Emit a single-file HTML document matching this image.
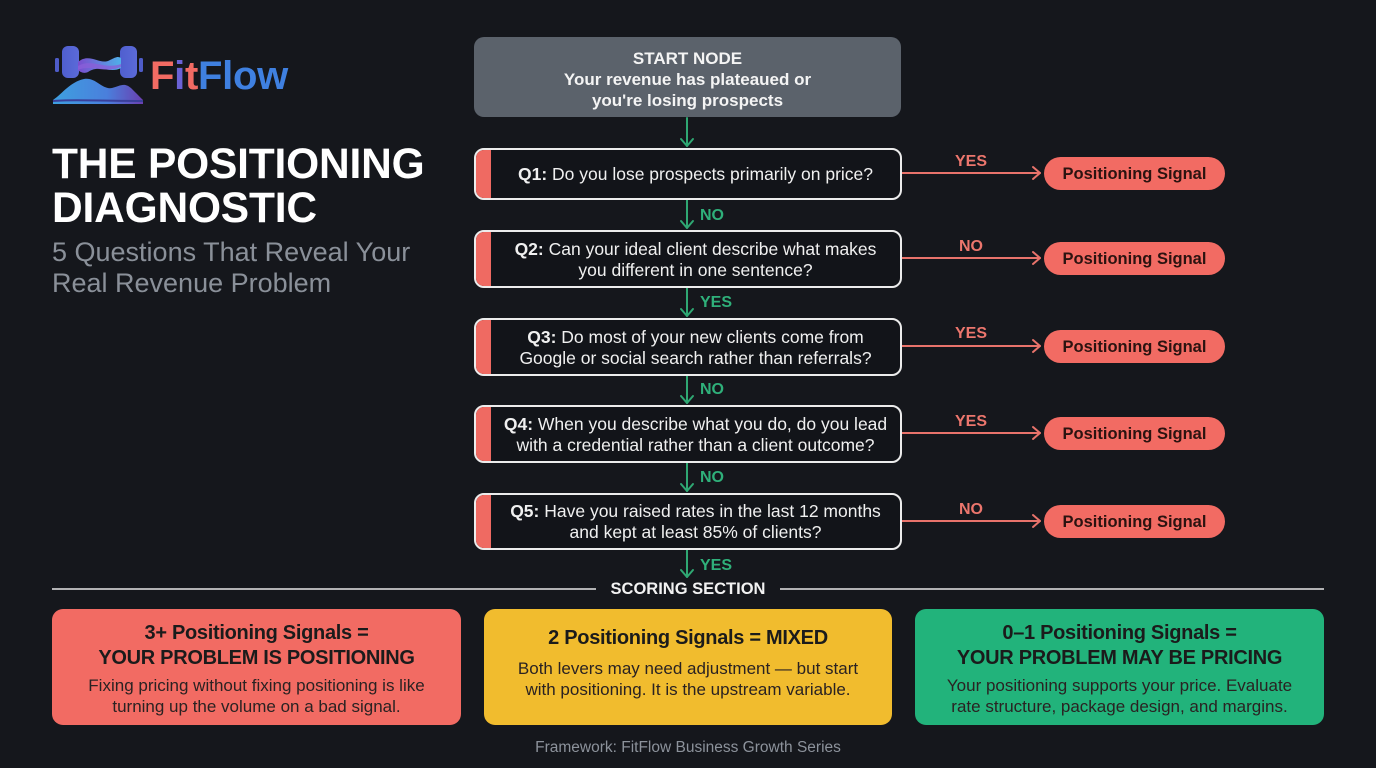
<!DOCTYPE html>
<html><head><meta charset="utf-8">
<style>
*{margin:0;padding:0;box-sizing:border-box}
body{width:1376px;height:768px;background:#15171c;font-family:"Liberation Sans",Arial,sans-serif;position:relative;overflow:hidden;color:#fff}
.abs{position:absolute}
.title{left:52px;top:143px;font-size:42.5px;font-weight:700;line-height:44px;color:#fff;letter-spacing:-0.2px}
.sub{left:52px;top:237px;font-size:27px;line-height:31px;color:#8a9099}
.start{left:474px;top:37px;width:427px;height:80px;background:#5b626b;border-radius:10px;text-align:center;font-weight:700;font-size:17px;line-height:21px;padding-top:11px;color:#f4f4f4}
.q{left:474px;width:428px;border:2px solid #ececec;border-radius:10px;background:#121419;overflow:hidden;display:flex;align-items:center;justify-content:center}
.q .acc{position:absolute;left:0;top:0;bottom:0;width:15px;background:#ef6a62}
.q .t{margin-left:15px;text-align:center;font-size:17.5px;line-height:21px;color:#f0f0f0;width:405px;padding-top:1px}
.q b{font-weight:700}
.pill{left:1044px;width:181px;height:33px;border-radius:17px;background:#f26b63;color:#2b1310;font-weight:700;font-size:16.5px;text-align:center;line-height:34px}
.rl{font-size:16px;font-weight:700;color:#ec766d;width:60px;text-align:center;left:941px}
.gl{font-size:16px;font-weight:700;color:#2fb07a;left:700px}
.card{top:609px;height:116px;border-radius:11px;text-align:center;color:#1b1b1b}
.card .h{font-size:20px;font-weight:700;line-height:25px;letter-spacing:-0.3px}
.card .p{font-size:17px;line-height:21px;color:#2a2222;margin-top:4px}
.foot{left:0;width:1376px;top:739px;text-align:center;font-size:15.5px;color:#8c929b}
</style></head><body>

<!-- Logo -->
<svg class="abs" style="left:0;top:0" width="320" height="120">
  <defs>
    <linearGradient id="lg1" x1="0" x2="1" y1="0" y2="0"><stop offset="0" stop-color="#4f5fcf"/><stop offset="1" stop-color="#5b6ad8"/></linearGradient>
    <linearGradient id="lg2" x1="0" x2="1" y1="0" y2="0"><stop offset="0" stop-color="#3ea0e0"/><stop offset="0.6" stop-color="#4a7fdc"/><stop offset="1" stop-color="#6a3fb0"/></linearGradient>
    <linearGradient id="lg3" x1="0" x2="1"><stop offset="0" stop-color="#7a4ccf"/><stop offset="1" stop-color="#4fb0e8"/></linearGradient>
  </defs>
  <rect x="55" y="58" width="4" height="14" rx="1.5" fill="#4e5cc8"/>
  <rect x="62" y="46" width="17" height="32" rx="6" fill="url(#lg1)"/>
  <rect x="120" y="46" width="17" height="32" rx="6" fill="url(#lg1)"/>
  <rect x="139" y="58" width="4" height="14" rx="1.5" fill="#4e5cc8"/>
  <path d="M78 62 C90 52,100 66,110 60 C116 57,118 56,121 58 L121 68 C110 74,100 64,88 72 C84 74,80 72,78 70 Z" fill="url(#lg3)"/>
  <path d="M78 66 C92 58,104 70,121 64 L121 67 C104 74,92 64,78 70Z" fill="#8a5fd8" opacity="0.8"/>
  <path d="M53 100 C62 94,70 82,84 79 C96 77,102 90,112 88 C120 86,124 82,131 88 C137 94,140 97,143 100 L143 104 L53 104Z" fill="url(#lg2)"/>
  <path d="M53 101 C70 99,100 101,143 101" stroke="#3a3f9a" stroke-width="2" fill="none"/>
  <text x="150" y="89" font-family="Liberation Sans, Arial, sans-serif" font-weight="700" font-size="40" letter-spacing="-0.3"><tspan fill="#f26b63">F</tspan><tspan fill="#6a62d6">i</tspan><tspan fill="#f26b63">t</tspan><tspan fill="#3f80e0">Flow</tspan></text>
</svg>

<div class="abs title">THE POSITIONING<br>DIAGNOSTIC</div>
<div class="abs sub">5 Questions That Reveal Your<br>Real Revenue Problem</div>

<!-- Connectors -->
<svg class="abs" style="left:0;top:0" width="1376" height="768">
  <g stroke="#2fa873" stroke-width="2" fill="none" stroke-linecap="round" stroke-linejoin="round">
    <line x1="687" y1="118" x2="687" y2="146"/><polyline points="681,139 687,146 693,139"/>
    <line x1="687" y1="200" x2="687" y2="228"/><polyline points="681,221 687,228 693,221"/>
    <line x1="687" y1="288" x2="687" y2="316"/><polyline points="681,309 687,316 693,309"/>
    <line x1="687" y1="376" x2="687" y2="403"/><polyline points="681,396 687,403 693,396"/>
    <line x1="687" y1="463" x2="687" y2="491"/><polyline points="681,484 687,491 693,484"/>
    <line x1="687" y1="550" x2="687" y2="577"/><polyline points="681,570 687,577 693,570"/>
  </g>
  <g stroke="#e8736b" stroke-width="2" fill="none" stroke-linecap="round" stroke-linejoin="round">
    <line x1="902" y1="173" x2="1040" y2="173"/><polyline points="1033,167 1040,173 1033,179"/>
    <line x1="902" y1="258" x2="1040" y2="258"/><polyline points="1033,252 1040,258 1033,264"/>
    <line x1="902" y1="346" x2="1040" y2="346"/><polyline points="1033,340 1040,346 1033,352"/>
    <line x1="902" y1="433" x2="1040" y2="433"/><polyline points="1033,427 1040,433 1033,439"/>
    <line x1="902" y1="521" x2="1040" y2="521"/><polyline points="1033,515 1040,521 1033,527"/>
  </g>
  <line x1="52" y1="589" x2="596" y2="589" stroke="#e6e6e6" stroke-width="1.5"/>
  <line x1="780" y1="589" x2="1324" y2="589" stroke="#e6e6e6" stroke-width="1.5"/>
</svg>

<div class="abs start">START NODE<br>Your revenue has plateaued or<br>you're losing prospects</div>

<div class="abs q" style="top:148px;height:52px"><div class="acc"></div><div class="t"><b>Q1:</b> Do you lose prospects primarily on price?</div></div>
<div class="abs q" style="top:230px;height:58px"><div class="acc"></div><div class="t"><b>Q2:</b> Can your ideal client describe what makes<br>you different in one sentence?</div></div>
<div class="abs q" style="top:318px;height:58px"><div class="acc"></div><div class="t"><b>Q3:</b> Do most of your new clients come from<br>Google or social search rather than referrals?</div></div>
<div class="abs q" style="top:405px;height:58px"><div class="acc"></div><div class="t"><b>Q4:</b> When you describe what you do, do you lead<br>with a credential rather than a client outcome?</div></div>
<div class="abs q" style="top:493px;height:57px"><div class="acc"></div><div class="t"><b>Q5:</b> Have you raised rates in the last 12 months<br>and kept at least 85% of clients?</div></div>

<div class="abs gl" style="top:207px">NO</div>
<div class="abs gl" style="top:294px">YES</div>
<div class="abs gl" style="top:381px">NO</div>
<div class="abs gl" style="top:469px">NO</div>
<div class="abs gl" style="top:557px">YES</div>

<div class="abs rl" style="top:153px">YES</div>
<div class="abs rl" style="top:238px">NO</div>
<div class="abs rl" style="top:325px">YES</div>
<div class="abs rl" style="top:413px">YES</div>
<div class="abs rl" style="top:501px">NO</div>

<div class="abs pill" style="top:157px">Positioning Signal</div>
<div class="abs pill" style="top:242px">Positioning Signal</div>
<div class="abs pill" style="top:330px">Positioning Signal</div>
<div class="abs pill" style="top:417px">Positioning Signal</div>
<div class="abs pill" style="top:505px">Positioning Signal</div>

<div class="abs" style="left:0;width:1376px;top:580px;text-align:center;font-size:16.5px;font-weight:700;color:#f2f2f2">SCORING SECTION</div>

<div class="abs card" style="left:52px;width:409px;background:#f26b63;padding-top:12px">
  <div class="h">3+ Positioning Signals =<br>YOUR PROBLEM IS POSITIONING</div>
  <div class="p">Fixing pricing without fixing positioning is like<br>turning up the volume on a bad signal.</div>
</div>
<div class="abs card" style="left:484px;width:408px;background:#f1bc2e;padding-top:17px">
  <div class="h">2 Positioning Signals = MIXED</div>
  <div class="p" style="margin-top:7px">Both levers may need adjustment — but start<br>with positioning. It is the upstream variable.</div>
</div>
<div class="abs card" style="left:915px;width:409px;background:#22b37b;padding-top:12px">
  <div class="h">0–1 Positioning Signals =<br>YOUR PROBLEM MAY BE PRICING</div>
  <div class="p">Your positioning supports your price. Evaluate<br>rate structure, package design, and margins.</div>
</div>

<div class="abs foot">Framework: FitFlow Business Growth Series</div>
</body></html>
